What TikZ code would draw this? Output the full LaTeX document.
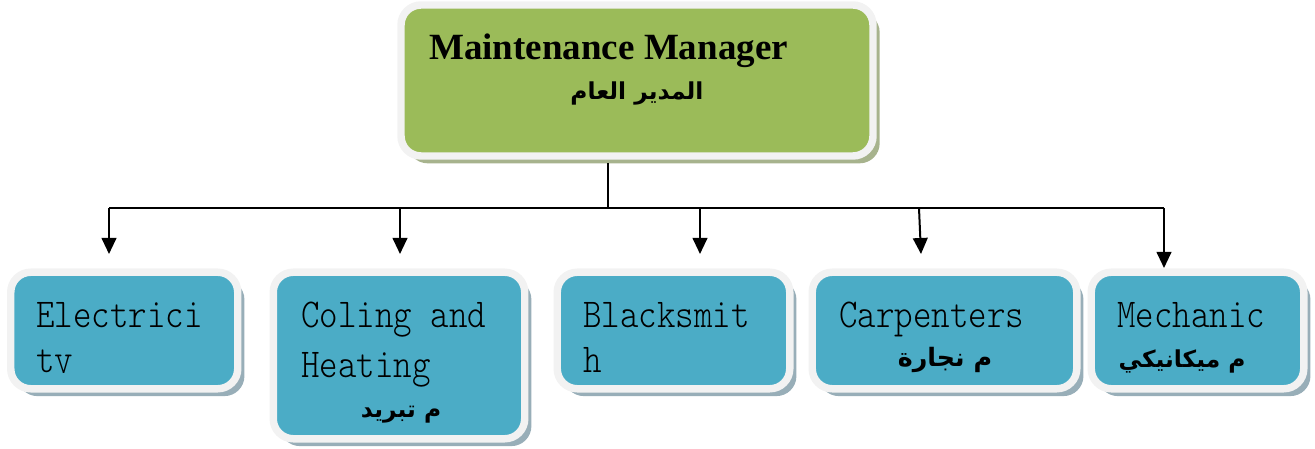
\documentclass[tikz,border=0pt]{standalone}
\usepackage{fontspec}
\usetikzlibrary{arrows.meta,shadows}
\TeXXeTstate=1
\newfontfamily\headfont{Liberation Serif}
\newfontfamily\unitfont{lmmonolt10-regular.otf}[FakeStretch=0.86]
\newfontfamily\arabicfont[Script=Arabic]{DejaVu Sans}
\definecolor{mgrgreen}{HTML}{9BBB59}
\definecolor{mgrshade}{HTML}{A7B38D}
\definecolor{unitblue}{HTML}{4BACC6}
\definecolor{unitshade}{HTML}{98AEB8}
\definecolor{framegray}{HTML}{F2F2F2}
\begin{document}
\begin{tikzpicture}[x=0.75pt,y=-0.75pt,
    box/.style={rounded corners=15pt,line width=5.6pt,draw=framegray,inner sep=0pt},
    mgrbox/.style={box,fill=mgrgreen,drop shadow={shadow xshift=5pt,shadow yshift=-5.5pt,fill=mgrshade,opacity=1}},
    unitbox/.style={box,fill=unitblue,minimum height=87.4pt,drop shadow={shadow xshift=5pt,shadow yshift=-5.5pt,fill=unitshade,opacity=1}},
    unittext/.style={anchor=base west,inner sep=0pt,font=\unitfont\fontsize{30.75}{36}\selectfont},
    arabtext/.style={anchor=base,inner sep=0pt,font=\arabicfont\bfseries\fontsize{17.5}{20}\selectfont},
    link/.style={line width=1.5pt,-{Triangle[length=12pt,width=11pt]}}]
  \useasboundingbox (0,0) rectangle (1315,449);
  % manager on top
  \node[mgrbox,minimum width=354pt,minimum height=113.25pt] (mgr) at (637,80.5) {};
  \node[anchor=base west,inner sep=0pt,font=\headfont\bfseries\fontsize{27.75}{32}\selectfont] (mgrname) at (429,60) {Maintenance Manager};
  \node[arabtext,font=\arabicfont\bfseries\fontsize{17.5}{22}\selectfont] (mgrar) at (637,100) {\beginR المدير العام\endR};
  % the five units
  \node[unitbox,minimum width=170.25pt] (elec) at (124.25,330.5) {};
  \node[unitbox,minimum width=188.6pt,minimum height=124.9pt] (cool) at (399,355.5) {};
  \node[unitbox,minimum width=174.4pt] (black) at (673.5,330.5) {};
  \node[unitbox,minimum width=198.4pt] (carp) at (944.5,330.5) {};
  \node[unitbox,minimum width=159.4pt] (mech) at (1197.5,330.5) {};
  \node[unittext] (elec1) at (36,328) {Electrici};
  \node[unittext] (cool1) at (301,328) {Coling and};
  \node[unittext] (cool2) at (301,378) {Heating};
  \node[arabtext] (cool3) at (401,417) {\beginR م تبريد\endR};
  \node[unittext] (black1) at (583,328) {Blacksmit};
  \node[unittext] (black2) at (583,372) {h};
  \node[unittext] (carp1) at (839,328) {Carpenters};
  \node[arabtext,font=\arabicfont\bfseries\fontsize{19}{22}\selectfont] (carp2) at (945,366) {\beginR م نجارة\endR};
  \node[unittext] (mech1) at (1117,328) {Mechanic};
  \begin{scope}
    \clip (20,340) rectangle (1290,372.5);
    \node[unittext] (elec2) at (36,372) {ty};
    \node[arabtext] (mech2) at (1182,367) {\beginR م ميكانيكي\endR};
  \end{scope}
  % connectors
  \foreach \xa/\xb/\yb [count=\i] in {109/109/254,400/400/254,700/700/254,919/921/254,1164/1164/268}{
    \coordinate (bus\i) at (\xa,208);
    \coordinate (tip\i) at (\xb,\yb);
    \draw[link] (bus\i) -- (tip\i);
  }
  \coordinate (hub) at (608,208);
  \draw[line width=1.5pt] ([yshift=-2.8pt]mgr.south -| hub) -- (hub);
  \draw[line width=1.5pt] (bus1) -- (bus5);
\end{tikzpicture}
\end{document}
